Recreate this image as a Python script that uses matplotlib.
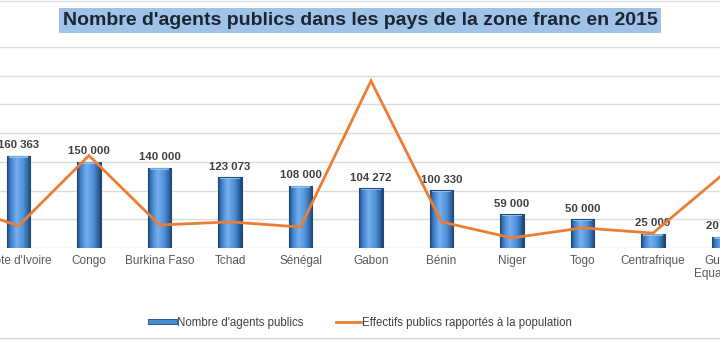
import numpy as np
import matplotlib
matplotlib.use("Agg")
import matplotlib.pyplot as plt
from matplotlib.lines import Line2D
from matplotlib.patches import Rectangle
import matplotlib.patheffects as pe
from matplotlib.colors import LinearSegmentedColormap

plt.rcParams['font.family'] = ['Liberation Sans', 'DejaVu Sans']

# ---------------- data ----------------
categories = ["Cameroun", "Côte d'Ivoire", "Congo", "Burkina Faso", "Tchad", "Sénégal",
              "Gabon", "Bénin", "Niger", "Togo", "Centrafrique", "Guinée\nEquatoriale"]
agents = [None, 160363, 150000, 140000, 123073, 108000, 104272, 100330, 59000, 50000, 25000, 20000]
ratio_population = [1.60, 0.77, 3.22, 0.80, 0.91, 0.73, 5.82, 0.91, 0.35, 0.70, 0.52, 2.58]
y_ticks = [0, 50000, 100000, 150000, 200000, 250000, 300000, 350000]

title = "Nombre d'agents publics dans les pays de la zone franc en 2015"
legend_labels = ["Nombre d'agents publics", "Effectifs publics rapportés à la population"]

# ---------------- figure ----------------
W, H = 720, 340
fig = plt.figure(figsize=(W / 100, H / 100), dpi=100)

# plot area (extends beyond the visible figure, the image is cropped)
x_left_px, x_right_px = -87.25, 758.75
y_top_px, y_bot_px = 47, 248
ax = fig.add_axes([x_left_px / W, (H - y_bot_px) / H,
                   (x_right_px - x_left_px) / W, (y_bot_px - y_top_px) / H])
x = np.arange(len(categories))
ax.set_xlim(-0.5, len(categories) - 0.5)
ax.set_ylim(y_ticks[0], y_ticks[-1])
ax.set_yticks(y_ticks)
ax.yaxis.grid(True, color="#dcdcdc", linewidth=1.0)
ax.set_axisbelow(True)
for s in ax.spines.values():
    s.set_visible(False)
ax.tick_params(axis="y", left=False, labelleft=False)
ax.set_xticks(x)
ax.set_xticklabels(categories, fontsize=8.5, color="#595959", linespacing=1.1)
ax.tick_params(axis="x", length=0, pad=5)

# bars with cylinder-like gradient
bar_w = 0.33
cmap = LinearSegmentedColormap.from_list(
    "barshade", [(0.0, "#1f4a7a"), (0.15, "#3f80c8"), (0.4, "#74b0ee"),
                 (0.7, "#4d8fd6"), (0.9, "#2d619c"), (1.0, "#1c4470")])
grad = np.linspace(0, 1, 64).reshape(1, -1)
for xi, v in zip(x, agents):
    if v is None:
        continue
    im = ax.imshow(grad, cmap=cmap, aspect="auto", zorder=2,
                   extent=(xi - bar_w / 2, xi + bar_w / 2, 0, v), interpolation="bilinear")
    rect = Rectangle((xi - bar_w / 2, 0), bar_w, v, facecolor="none",
                     edgecolor="#1f4a7a", linewidth=0.8, zorder=3)
    ax.add_patch(rect)
    im.set_clip_path(rect)
    # light bevel at the top
    cap_h = 3500
    ax.add_patch(Rectangle((xi - bar_w / 2 + 0.03, v - cap_h), bar_w - 0.06, cap_h * 0.8,
                           facecolor="#a9d1f7", edgecolor="none", alpha=0.7, zorder=3))
    ax.annotate(f"{v:,}".replace(",", " "), (xi, v), xytext=(0, 4),
                textcoords="offset points", ha="center", va="bottom",
                fontsize=8.2, fontweight="bold", color="#404040", zorder=5)
ax.set_xlim(-0.5, len(categories) - 0.5)
ax.set_ylim(y_ticks[0], y_ticks[-1])

# secondary (hidden) axis for the line
ax2 = ax.twinx()
ax2.set_ylim(0, 7)
ax2.set_xlim(-0.5, len(categories) - 0.5)
ax2.plot(x, ratio_population, color="#ed7d31", linewidth=2.0, zorder=4,
         solid_joinstyle="miter")
ax2.axis("off")

# title with light blue box
fig.text(0.5, 1 - 20.5 / H, title, ha="center", va="center", fontsize=14,
         fontweight="bold", color="#1c2633",
         bbox=dict(boxstyle="square,pad=0.2", facecolor="#9fc2e7", edgecolor="none"))

# legend
h_bar = Line2D([], [], color="#4a8cd2", linewidth=3.0,
               path_effects=[pe.Stroke(linewidth=4.2, foreground="#1f4a7a"), pe.Normal()])
h_line = Line2D([], [], color="#ed7d31", linewidth=2.0)
fig.legend([h_bar, h_line], legend_labels, loc="center", bbox_to_anchor=(0.502, 1 - 323 / H),
           ncol=2, frameon=False, fontsize=8.3, handlelength=2.1, handletextpad=0.15,
           columnspacing=2.9, labelcolor="#404040")

# chart border lines (top and bottom)
fig.add_artist(Line2D([0, 1], [1 - 0.5 / H, 1 - 0.5 / H], color="#e0e0e0", linewidth=1))
fig.add_artist(Line2D([0, 1], [1 - 338 / H, 1 - 338 / H], color="#d9d9d9", linewidth=1))

fig.savefig("out.png", dpi=100)
